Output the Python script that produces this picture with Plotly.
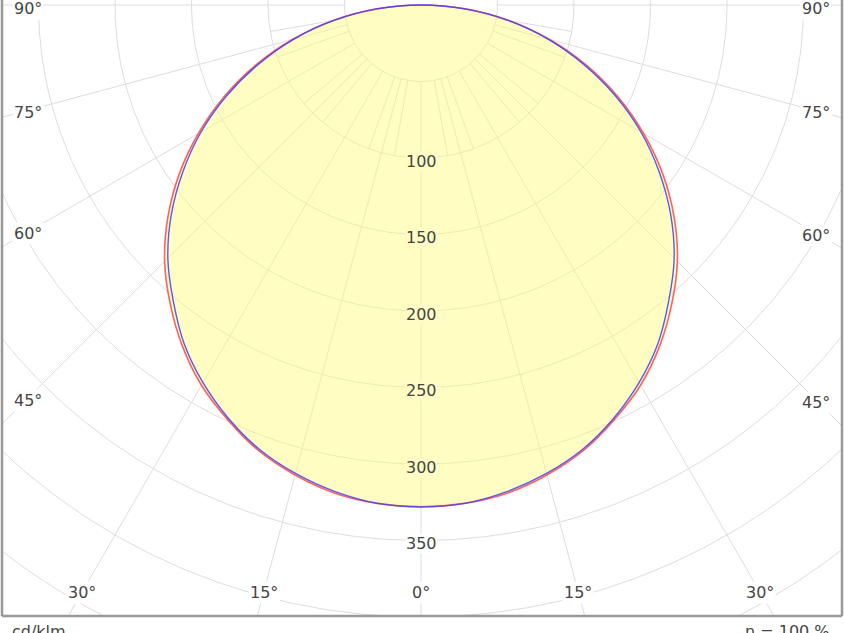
import numpy as np
import plotly.graph_objects as go

# ---------------- data ----------------
gamma_deg = [0, 5, 10, 15, 20, 25, 30, 35, 40, 45, 50, 55, 60, 65, 70, 75, 80, 85, 90]
i_c0_c180 = [328, 327, 323, 317, 309, 298, 285, 270, 252, 234, 213, 190, 166, 140, 113, 86, 58, 29, 0]   # blue
i_c90_c270 = [328, 327, 324, 318, 310, 299, 287, 272, 255, 237, 216, 193, 168, 142, 115, 87, 58, 29, 0]  # red

radius_ticks = [100, 150, 200, 250, 300, 350]
grid_circles = [50, 100, 150, 200, 250, 300, 350, 400, 450, 500]
angle_labels = [0, 15, 30, 45, 60, 75, 90]
unit_text = "cd/klm"
eta_text = "η = 100 %"

# ---------------- geometry helpers ----------------
W, H = 844, 633
PX = 1.53            # pixels per cd/klm
CX, CY = 421, 5      # pole position in pixels
FR_L, FR_R, FR_B = 2, 842, 616

def px2x(p):
    return (p - CX) / PX

def px2y(p):
    return (CY - p) / PX

def polar_xy(g_deg, r):
    g = np.radians(np.asarray(g_deg, dtype=float))
    r = np.asarray(r, dtype=float)
    return r * np.sin(g), -r * np.cos(g)

GRID = "#dddddd"
TXT = "#444444"
FONT = "DejaVu Sans"

fig = go.Figure()

# grid circles
t = np.linspace(0, 360, 721)
for r in grid_circles:
    x, y = polar_xy(t, np.full_like(t, r))
    fig.add_trace(go.Scatter(x=x, y=y, mode="lines", line=dict(color=GRID, width=1),
                             hoverinfo="skip", showlegend=False))

# radial lines every 15 deg (r >= 50) and extra 10 deg lines in the inner ring
for g in range(-90, 91, 5):
    if g % 15 == 0:
        r0, r1 = 50, 520
    elif g % 10 == 0:
        r0, r1 = 50, 100
    else:
        continue
    x, y = polar_xy([g, g], [r0, r1])
    fig.add_trace(go.Scatter(x=x, y=y, mode="lines", line=dict(color=GRID, width=1),
                             hoverinfo="skip", showlegend=False))

# curves (full C-plane: left side mirrored)
def full_curve(vals):
    g = [-a for a in gamma_deg[::-1]] + gamma_deg[1:]
    v = vals[::-1] + vals[1:]
    return polar_xy(g, v)

xb, yb = full_curve(i_c0_c180)
xr, yr = full_curve(i_c90_c270)

fig.add_trace(go.Scatter(x=xr, y=yr, mode="lines", fill="toself",
                         fillcolor="rgba(255,250,120,0.45)",
                         line=dict(color="rgba(255,70,70,0.85)", width=1.6, shape="spline"),
                         hoverinfo="skip", showlegend=False))
fig.add_trace(go.Scatter(x=xb, y=yb, mode="lines",
                         line=dict(color="rgba(60,60,255,0.85)", width=1.4, shape="spline"),
                         hoverinfo="skip", showlegend=False))

annotations = []
# radius labels on the 0 deg axis
for r in radius_ticks:
    inside = r < max(i_c0_c180)
    annotations.append(dict(x=0, y=-r, xref="x", yref="y", text=str(r), showarrow=False,
                            yshift=-3, font=dict(family=FONT, size=16, color=TXT),
                            bgcolor="#fffcc4" if inside else "#ffffff", borderpad=0))

# angle labels: along the side edges for >= 45, along the bottom for < 45
LX_L, LX_R, LY_B = 28, 816, 592
for a in angle_labels:
    for side in ([1] if a == 0 else [-1, 1]):
        g = np.radians(a)
        if a >= 45:
            px = LX_L if side < 0 else LX_R
            dx = abs(px - CX)
            py = CY + (dx / np.tan(g) + 2 if a < 90 else 3)
        else:
            py = LY_B
            px = CX + side * (py - CY) * np.tan(g)
        annotations.append(dict(x=px2x(px), y=px2y(py), xref="x", yref="y", text=f"{a}°",
                                showarrow=False, font=dict(family=FONT, size=16, color=TXT),
                                bgcolor="#ffffff", borderpad=1))

# bottom texts
annotations.append(dict(x=10 / W, y=1 - 620 / H, xref="paper", yref="paper", text=unit_text,
                        xanchor="left", yanchor="top", showarrow=False,
                        font=dict(family=FONT, size=16, color=TXT)))
annotations.append(dict(x=832 / W, y=1 - 620 / H, xref="paper", yref="paper", text=eta_text,
                        xanchor="right", yanchor="top", showarrow=False,
                        font=dict(family=FONT, size=16, color=TXT)))

# frame
shapes = [
    dict(type="line", xref="paper", yref="paper", x0=FR_L / W, x1=FR_L / W, y0=1 - FR_B / H, y1=1.01,
         line=dict(color="#999999", width=2.5)),
    dict(type="line", xref="paper", yref="paper", x0=FR_R / W, x1=FR_R / W, y0=1 - FR_B / H, y1=1.01,
         line=dict(color="#999999", width=2.5)),
    dict(type="line", xref="paper", yref="paper", x0=FR_L / W, x1=FR_R / W, y0=1 - FR_B / H, y1=1 - FR_B / H,
         line=dict(color="#999999", width=2.5)),
]

fig.update_layout(
    width=W, height=H, margin=dict(l=0, r=0, t=0, b=0),
    paper_bgcolor="white", plot_bgcolor="white",
    xaxis=dict(domain=[FR_L / W, FR_R / W], range=[px2x(FR_L), px2x(FR_R)],
               showgrid=False, zeroline=False, showticklabels=False, ticks="", fixedrange=True),
    yaxis=dict(domain=[1 - FR_B / H, 1], range=[px2y(FR_B), px2y(0)],
               showgrid=False, zeroline=False, showticklabels=False, ticks="", fixedrange=True),
    annotations=annotations, shapes=shapes, showlegend=False,
)

fig.write_html("out.html")
